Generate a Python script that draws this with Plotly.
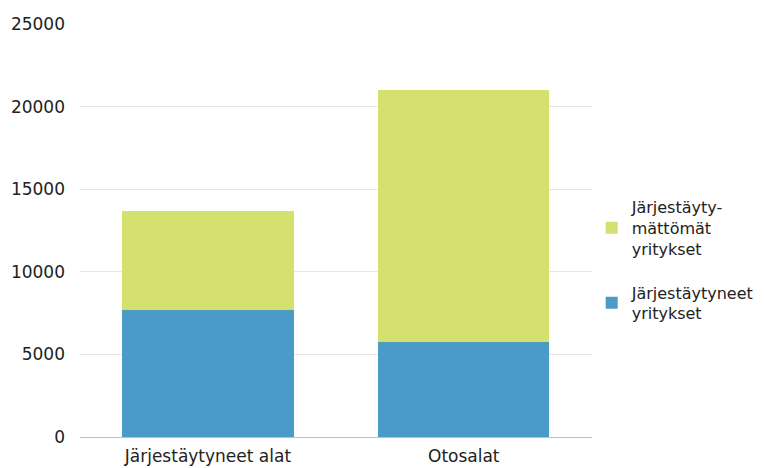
import plotly.graph_objects as go

categories = ["Järjestäytyneet alat", "Otosalat"]
organized = [7700, 5750]
unorganized = [6000, 15250]
series_names = ["Järjestäytyneet<br>yritykset", "Järjestäyty-<br>mättömät<br>yritykset"]
tick_vals = [0, 5000, 10000, 15000, 20000, 25000]

fig = go.Figure()
fig.add_trace(go.Bar(x=categories, y=organized, name=series_names[0], legendgroup="a",
                     legendrank=2,
                     marker=dict(color="#4A9BC7", line=dict(width=0))))
fig.add_trace(go.Bar(x=categories, y=unorganized, name=series_names[1], legendgroup="b",
                     legendrank=1,
                     marker=dict(color="#D4E16E", line=dict(width=0))))

fig.update_layout(
    width=765, height=468,
    barmode="stack", bargap=0.33,
    paper_bgcolor="white", plot_bgcolor="white",
    margin=dict(l=72, r=181, t=16, b=39),
    font=dict(family="DejaVu Sans, Liberation Sans, sans-serif", size=17, color="#222222"),
    legend=dict(x=0.763, xref="container", y=0.598, xanchor="left", yanchor="top",
                traceorder="grouped", font=dict(size=16),
                itemwidth=30, tracegroupgap=20),
    showlegend=True,
)
fig.update_yaxes(range=[0, 25000], tickvals=tick_vals, tickformat="d", showgrid=True,
                 gridcolor="#E6E6E6", gridwidth=1, zeroline=False, automargin=False,
                 showline=False, ticks="", ticklabelstandoff=14)
fig.update_xaxes(showline=True, linecolor="#BFBFBF", linewidth=1, ticks="",
                 automargin=False, ticklabelstandoff=4)

fig.write_html("out.html")
